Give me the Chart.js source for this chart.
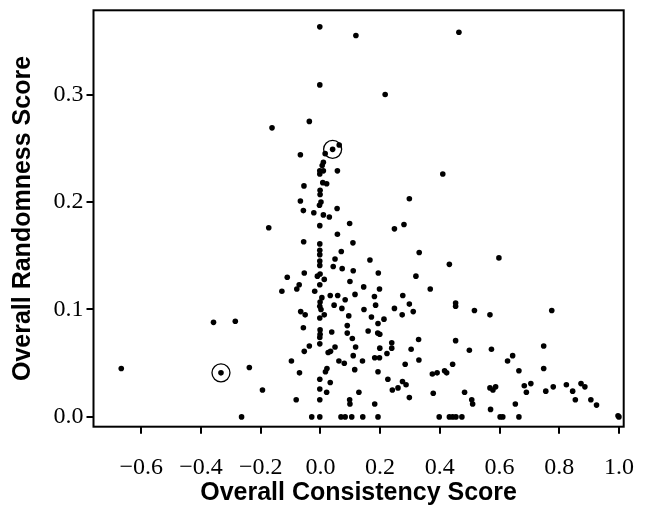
<!DOCTYPE html>
<html><head><meta charset="utf-8">
<script src="https://cdn.jsdelivr.net/npm/chart.js@4/dist/chart.umd.min.js"></script>
<style>html,body{margin:0;padding:0;background:#fff}#wrap{width:649px;height:512px}</style>
</head><body>
<div id="wrap"><canvas id="c" width="649" height="512"></canvas></div>
<script>
const consistency = [
-0.162,-0.002,0.119,-0.002,0.217,-0.037,0.041,0.063,0.464,-0.173,
-0.067,0.016,0.010,0.006,-0.002,0.010,-0.002,0.057,-0.055,0.008,
0.021,-0.001,-0.001,-0.067,0.002,-0.003,-0.057,0.056,-0.022,0.010,
0.030,0.098,-0.002,0.057,-0.056,0.109,-0.002,-0.002,-0.002,0.070,
0.049,-0.002,-0.002,0.043,0.073,0.166,0.110,-0.054,-0.111,0.194,
-0.010,-0.001,0.013,-0.002,0.099,-0.071,-0.079,-0.129,-0.019,0.145,
0.198,0.116,0.410,0.298,0.248,0.280,0.331,0.320,0.368,0.432,
0.598,-0.667,-0.358,-0.285,-0.333,-0.238,-0.194,-0.264,0.005,0.033,
0.058,0.083,0.181,0.276,-0.001,-0.002,0.002,0.046,0.072,-0.066,
-0.051,-0.002,0.013,0.095,0.146,0.185,0.171,0.213,0.193,0.248,
0.274,0.298,0.311,-0.057,0.090,0.090,-0.001,-0.001,-0.002,-0.002,
0.038,0.107,0.160,0.192,0.199,0.329,-0.037,-0.054,0.049,0.118,
0.199,0.239,0.239,0.223,0.304,0.026,0.034,0.110,0.182,0.198,
-0.097,0.062,0.080,0.141,0.284,0.330,0.022,0.017,-0.070,0.115,
0.193,0.375,0.391,0.416,0.423,-0.002,0.033,0.226,0.275,0.287,
0.241,0.260,-0.002,0.021,0.129,0.378,-0.081,-0.002,0.098,0.099,
0.182,0.298,-0.029,-0.002,0.069,0.083,0.105,0.142,0.193,0.398,
0.432,0.453,0.453,0.516,0.568,0.775,0.453,0.499,0.573,0.748,
0.443,0.627,0.644,0.665,0.748,0.705,0.683,0.690,0.568,0.578,
0.587,0.483,0.507,0.510,0.755,0.780,0.824,0.845,0.873,0.886,
0.854,0.906,0.925,0.570,0.653,0.443,0.454,0.474,0.602,0.611,
0.665,1.000,0.997
];
const randomness = [
0.269,0.363,0.355,0.309,0.300,0.275,0.249,0.253,0.358,0.176,
0.244,0.245,0.237,0.234,0.229,0.229,0.226,0.229,0.215,0.218,
0.217,0.211,0.207,0.201,0.200,0.197,0.192,0.194,0.190,0.188,
0.186,0.180,0.178,0.170,0.163,0.162,0.161,0.155,0.151,0.154,
0.147,0.145,0.141,0.140,0.138,0.146,0.136,0.134,0.130,0.134,
0.131,0.133,0.128,0.123,0.126,0.123,0.119,0.117,0.117,0.121,
0.119,0.114,0.226,0.203,0.175,0.179,0.153,0.131,0.119,0.142,
0.148,0.045,0.088,0.089,0.041,0.046,0.025,0.000,0.111,0.113,
0.113,0.109,0.112,0.113,0.107,0.103,0.100,0.104,0.101,0.098,
0.095,0.092,0.095,0.094,0.100,0.104,0.093,0.091,0.087,0.101,
0.095,0.105,0.098,0.083,0.085,0.078,0.081,0.077,0.074,0.068,
0.079,0.073,0.080,0.078,0.077,0.072,0.066,0.061,0.065,0.065,
0.064,0.069,0.064,0.059,0.063,0.060,0.061,0.057,0.055,0.055,
0.052,0.052,0.050,0.052,0.049,0.053,0.045,0.042,0.041,0.044,
0.042,0.040,0.041,0.043,0.041,0.035,0.032,0.035,0.033,0.030,
0.025,0.027,0.026,0.023,0.023,0.022,0.016,0.016,0.016,0.012,
0.012,0.018,0.000,0.000,0.000,0.000,0.000,0.000,0.000,0.000,
0.000,0.106,0.103,0.099,0.095,0.099,0.071,0.062,0.063,0.066,
0.049,0.052,0.057,0.043,0.045,0.031,0.029,0.023,0.027,0.025,
0.028,0.023,0.016,0.012,0.024,0.028,0.030,0.024,0.031,0.028,
0.016,0.016,0.011,0.007,0.012,0.000,0.000,0.000,0.000,0.000,
0.000,0.000,0.001
];
const circledConsistency = [0.041, -0.333];
const circledRandomness = [0.249, 0.041];
const xTicks = [-0.6, -0.4, -0.2, 0.0, 0.2, 0.4, 0.6, 0.8, 1.0];
const yTicks = [0.0, 0.1, 0.2, 0.3];
const xTitle = 'Overall Consistency Score';
const yTitle = 'Overall Randomness Score';

const fmt = v => (v < -1e-9 ? '\u2212' : '') + Math.abs(v).toFixed(1);
const points = consistency.map((x, i) => ({x, y: randomness[i]}));
const circled = circledConsistency.map((x, i) => ({x, y: circledRandomness[i]}));

const frame = {
  id: 'frame',
  afterDatasetsDraw(chart) {
    const {ctx, chartArea: a} = chart;
    ctx.save();
    ctx.strokeStyle = '#000';
    ctx.lineWidth = 2;
    ctx.strokeRect(a.left, a.top, a.right - a.left, a.bottom - a.top);
    ctx.restore();
  }
};

new Chart(document.getElementById('c'), {
  type: 'scatter',
  data: {
    datasets: [
      {data: points, pointRadius: 2.8, pointHoverRadius: 2.8, backgroundColor: '#000', borderColor: '#000', borderWidth: 0, clip: false},
      {data: circled, pointRadius: 9, pointHoverRadius: 9, backgroundColor: 'rgba(0,0,0,0)', borderColor: '#000', borderWidth: 1.3, clip: false}
    ]
  },
  options: {
    responsive: false,
    devicePixelRatio: 1,
    animation: false,
    events: [],
    layout: {padding: {top: 0.3, right: 25.3, bottom: 0, left: 0}},
    plugins: {legend: {display: false}, tooltip: {enabled: false}},
    scales: {
      x: {
        type: 'linear', min: -0.76, max: 1.016,
        afterBuildTicks: s => { s.ticks = xTicks.map(v => ({value: v})); },
        afterFit: s => { s.height = 85.3; s.paddingLeft = 0; s.paddingRight = 0; },
        grid: {drawOnChartArea: false, drawTicks: true, tickLength: 7, color: '#000', lineWidth: 2},
        border: {display: false},
        ticks: {color: '#000', padding: 19.5, maxRotation: 0, autoSkip: false, font: {family: 'Liberation Serif', size: 24}, callback: v => fmt(v)},
        title: {display: true, text: xTitle, color: '#000', font: {family: 'Liberation Sans', size: 25, weight: 'bold'}, padding: {top: 0, bottom: 3.5}}
      },
      y: {
        type: 'linear', min: -0.0091, max: 0.3784,
        afterBuildTicks: s => { s.ticks = yTicks.map(v => ({value: v})); },
        afterFit: s => { s.width = 93.5; s.paddingTop = 0; s.paddingBottom = 0; },
        grid: {drawOnChartArea: false, drawTicks: true, tickLength: 7, color: '#000', lineWidth: 2},
        border: {display: false},
        ticks: {color: '#000', padding: 3, autoSkip: false, font: {family: 'Liberation Serif', size: 24}, callback: v => fmt(v)},
        title: {display: true, text: yTitle, color: '#000', font: {family: 'Liberation Sans', size: 25, weight: 'bold'}, padding: {top: 8, bottom: 0}}
      }
    }
  },
  plugins: [frame]
});
</script>
</body></html>
